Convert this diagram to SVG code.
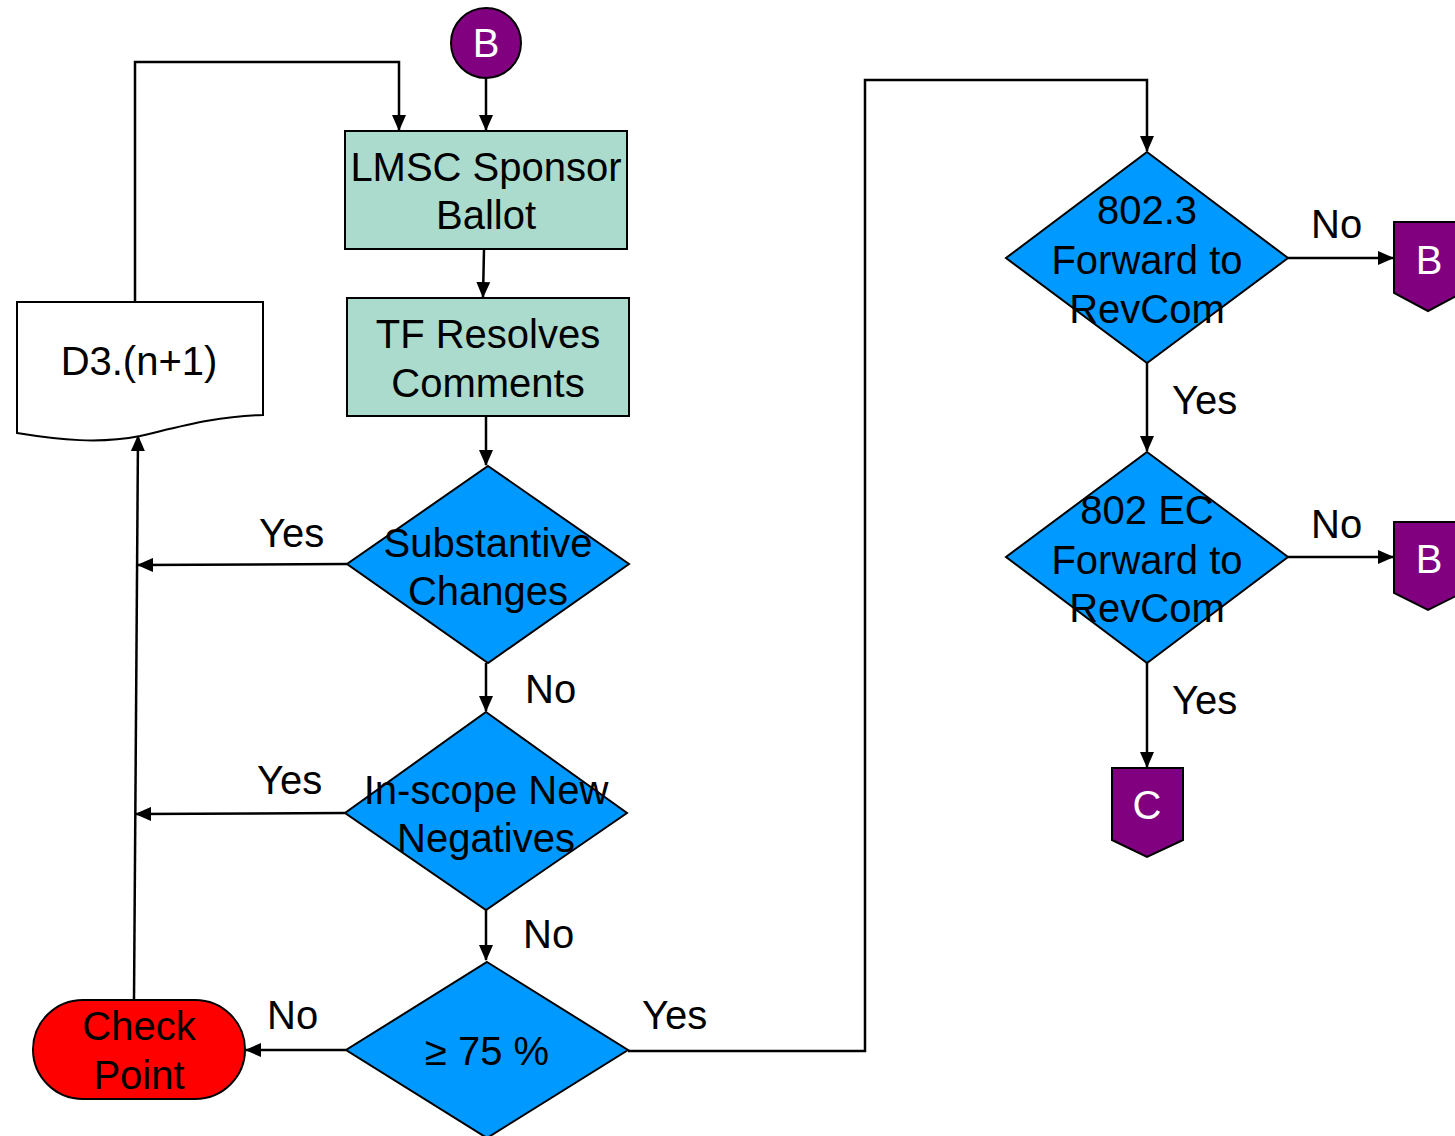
<svg xmlns="http://www.w3.org/2000/svg" width="1455" height="1136" viewBox="0 0 1455 1136">
<defs>
<marker id="arr" markerUnits="userSpaceOnUse" markerWidth="16" markerHeight="14" refX="15" refY="7" orient="auto">
<path d="M0,0 L16,7 L0,14 Z" fill="#000"/>
</marker>
<style>
text{font-family:"Liberation Sans",Arial,sans-serif;font-size:40px;text-anchor:middle;fill:#000}
.w{fill:#fff}
.box{fill:#AADBCD;stroke:#000;stroke-width:2}
.dia{fill:#0099FF;stroke:#000;stroke-width:2}
.pur{fill:#800080;stroke:#000;stroke-width:2}
.ln{fill:none;stroke:#000;stroke-width:2.5}
.lbl{text-anchor:start}
</style>
</defs>
<rect width="1455" height="1136" fill="#fff"/>
<g id="connectors">
<path class="ln" d="M486,78 L486,130" marker-end="url(#arr)"/>
<path class="ln" d="M135,302 L135,62 L399,62 L399,130" marker-end="url(#arr)"/>
<path class="ln" d="M484,249 L483,297" marker-end="url(#arr)"/>
<path class="ln" d="M486,416 L486,465" marker-end="url(#arr)"/>
<path class="ln" d="M347,564 L138,565" marker-end="url(#arr)"/>
<path class="ln" d="M486,663 L486,711" marker-end="url(#arr)"/>
<path class="ln" d="M345,813 L136,814" marker-end="url(#arr)"/>
<path class="ln" d="M486,910 L486,960" marker-end="url(#arr)"/>
<path class="ln" d="M346,1050 L246,1050" marker-end="url(#arr)"/>
<path class="ln" d="M134,1000 L138,436" marker-end="url(#arr)"/>
<path class="ln" d="M628,1051 L865,1051 L865,80 L1147,80 L1147,151" marker-end="url(#arr)"/>
<path class="ln" d="M1288,258 L1393,258" marker-end="url(#arr)"/>
<path class="ln" d="M1147,363 L1147,451" marker-end="url(#arr)"/>
<path class="ln" d="M1288,557 L1393,557" marker-end="url(#arr)"/>
<path class="ln" d="M1147,663 L1147,767" marker-end="url(#arr)"/>
<text class="lbl" x="259" y="547">Yes</text>
<text class="lbl" x="525" y="703">No</text>
<text class="lbl" x="257" y="794">Yes</text>
<text class="lbl" x="523" y="948">No</text>
<text class="lbl" x="267" y="1029">No</text>
<text class="lbl" x="642" y="1029">Yes</text>
<text class="lbl" x="1311" y="238">No</text>
<text class="lbl" x="1172" y="414">Yes</text>
<text class="lbl" x="1311" y="538">No</text>
<text class="lbl" x="1172" y="714">Yes</text>
</g>
<g id="startB">
<ellipse class="pur" cx="486" cy="43" rx="35" ry="35"/>
<text class="w" x="486" y="57">B</text>
</g>
<g id="lmsc">
<rect class="box" x="345" y="131" width="282" height="118"/>
<text x="486" y="181">LMSC Sponsor</text>
<text x="486" y="229">Ballot</text>
</g>
<g id="tf">
<rect class="box" x="347" y="298" width="282" height="118"/>
<text x="488" y="348">TF Resolves</text>
<text x="488" y="397">Comments</text>
</g>
<g id="substantive">
<polygon class="dia" points="488,466 629,564 488,663 347,564"/>
<text x="488" y="557">Substantive</text>
<text x="488" y="605">Changes</text>
</g>
<g id="inscope">
<polygon class="dia" points="486,712 627,813 486,910 345,813"/>
<text x="486" y="804">In-scope New</text>
<text x="486" y="852">Negatives</text>
</g>
<g id="pct">
<polygon class="dia" points="487,962 628,1050 487,1138 346,1050"/>
<text x="487" y="1065">≥ 75 %</text>
</g>
<g id="checkpoint">
<rect x="33" y="1000" width="212" height="99" rx="50" ry="50" fill="#FF0000" stroke="#000" stroke-width="2"/>
<text x="139" y="1040">Check</text>
<text x="139" y="1089">Point</text>
</g>
<g id="d3">
<path d="M17,302 L263,302 L263,415 C215,416 175,428 140,436 C100,444 60,440 17,433 Z" fill="#fff" stroke="#000" stroke-width="2"/>
<text x="139" y="375">D3.(n+1)</text>
</g>
<g id="fwd8023">
<polygon class="dia" points="1147,152 1288,258 1147,363 1006,258"/>
<text x="1147" y="224">802.3</text>
<text x="1147" y="274">Forward to</text>
<text x="1147" y="323">RevCom</text>
</g>
<g id="fwd802ec">
<polygon class="dia" points="1147,452 1288,557 1147,663 1006,557"/>
<text x="1147" y="524">802 EC</text>
<text x="1147" y="574">Forward to</text>
<text x="1147" y="622">RevCom</text>
</g>
<g id="offB1">
<path class="pur" d="M1394,222 L1462,222 L1462,293 L1428,311 L1394,293 Z"/>
<text class="w" x="1429" y="274">B</text>
</g>
<g id="offB2">
<path class="pur" d="M1394,522 L1462,522 L1462,593 L1428,610 L1394,593 Z"/>
<text class="w" x="1429" y="573">B</text>
</g>
<g id="offC">
<path class="pur" d="M1112,768 L1183,768 L1183,840 L1147,857 L1112,840 Z"/>
<text class="w" x="1147" y="819">C</text>
</g>
</svg>
